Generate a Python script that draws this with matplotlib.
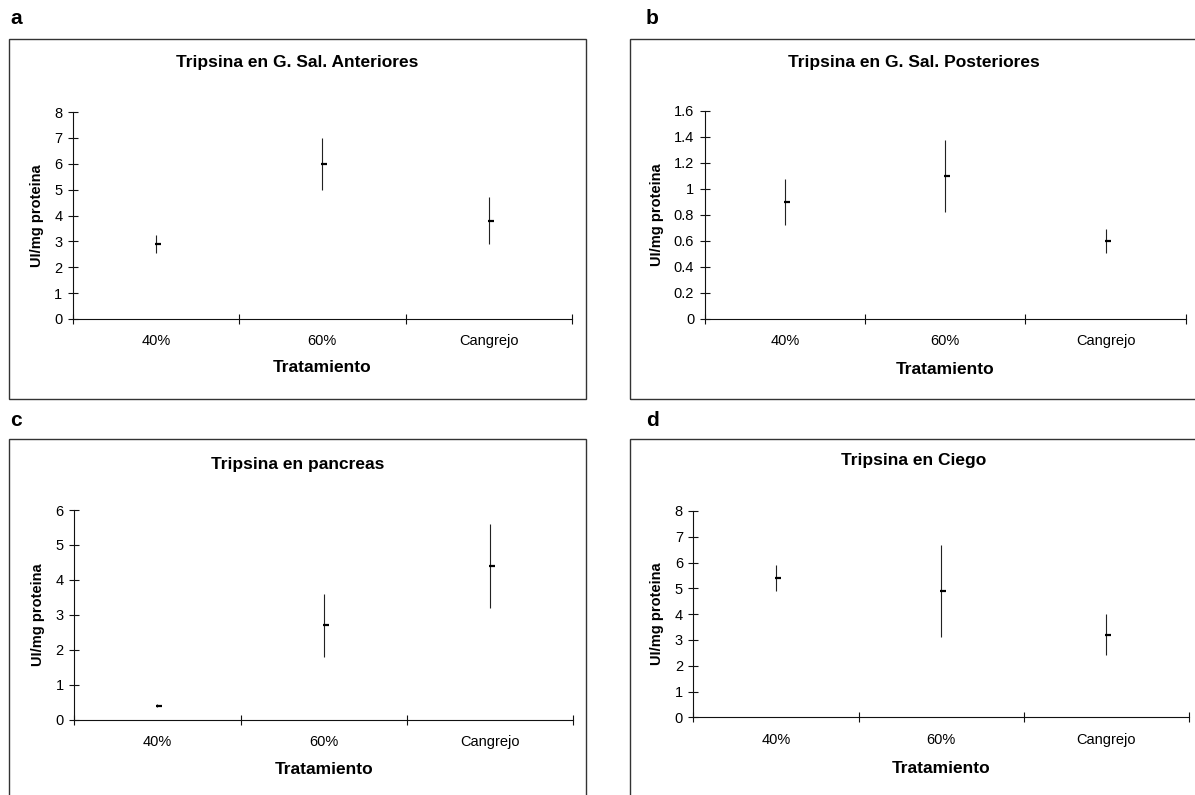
import matplotlib
matplotlib.use("Agg")
import matplotlib.pyplot as plt
from matplotlib.patches import Rectangle
from matplotlib.path import Path
from matplotlib.ticker import FixedLocator, FuncFormatter


plt.rcParams["font.family"] = ["Liberation Sans", "DejaVu Sans"]

# -------------------------------------------------------
# Data: tripsina activity (UI/mg proteina), mean and error
# -------------------------------------------------------

categories = ["40%", "60%", "Cangrejo"]

ant_mean = [2.9, 6.0, 3.8]
ant_err = [0.35, 1.0, 0.9]

post_mean = [0.9, 1.1, 0.6]
post_err = [0.18, 0.28, 0.095]

panc_mean = [0.4, 2.7, 4.4]
panc_err = [0.03, 0.9, 1.2]

ciego_mean = [5.4, 4.9, 3.2]
ciego_err = [0.5, 1.8, 0.8]

titles = [
    "Tripsina en G. Sal. Anteriores",
    "Tripsina en G. Sal. Posteriores",
    "Tripsina en pancreas",
    "Tripsina en Ciego",
]
letters = ["a", "b", "c", "d"]
y_max = [8, 1.6, 6, 8]
y_step = [1, 0.2, 1, 1]

W, H = 1195, 795

# layout in pixels: frame box, plot box, title y, xlabel y, ylabel x, letter pos
panels = [
    dict(frame=(9, 39, 586, 399), plot=(72.7, 112, 572, 319),
         title_y=62.5, xlab_y=368, ylab_x=36.5, letter=(10, 19)),
    dict(frame=(630, 39, 1198, 399), plot=(704.6, 111, 1185.7, 319),
         title_y=62.5, xlab_y=369, ylab_x=657, letter=(646, 19)),
    dict(frame=(9, 439, 586, 800), plot=(74.2, 510, 573.3, 719.5),
         title_y=465, xlab_y=770, ylab_x=37.7, letter=(10, 420)),
    dict(frame=(630, 439, 1198, 800), plot=(693.3, 511, 1189, 717.3),
         title_y=461, xlab_y=768.5, ylab_x=657, letter=(646, 420)),
]

# short dash sitting mostly to the right of the error line
dash = Path([(-0.25, 0), (1, 0)], [Path.MOVETO, Path.LINETO])


def fx(x):
    return x / W


def fy(y):
    return 1 - y / H


def draw_panel(fig, p, title, letter, means, errs, ymax, ystep):

    x0, y0, x1, y1 = p["frame"]
    fig.add_artist(Rectangle((fx(x0), fy(y1)), fx(x1 - x0), (y1 - y0) / H,
                             transform=fig.transFigure, fill=False,
                             ec="#333333", lw=1.0, clip_on=False))

    px0, py0, px1, py1 = p["plot"]
    ax = fig.add_axes([fx(px0), fy(py1), fx(px1 - px0), (py1 - py0) / H])

    pos = [i + 0.5 for i in range(len(categories))]
    ax.errorbar(pos, means, yerr=errs, fmt="none", ecolor="#222222",
                elinewidth=0.8, capsize=0)
    ax.plot(pos, means, linestyle="none", marker=dash, color="black",
            markersize=7, markeredgewidth=1.6)

    ax.set_xlim(0, len(categories))
    ax.set_ylim(0, ymax)

    for side in ("top", "right"):
        ax.spines[side].set_visible(False)
    for side in ("left", "bottom"):
        ax.spines[side].set_linewidth(0.8)
        ax.spines[side].set_color("#111111")

    nt = int(round(ymax / ystep))
    ax.yaxis.set_major_locator(FixedLocator([i * ystep for i in range(nt + 1)]))
    ax.yaxis.set_major_formatter(FuncFormatter(lambda v, _: "%g" % round(v, 2)))

    ax.xaxis.set_major_locator(FixedLocator(range(len(categories) + 1)))
    ax.xaxis.set_major_formatter(FuncFormatter(lambda v, _: ""))
    ax.xaxis.set_minor_locator(FixedLocator(pos))
    ax.set_xticklabels(categories, minor=True)

    ax.tick_params(axis="both", which="major", direction="inout", length=7,
                   width=0.8, color="#111111", labelsize=10.5)
    ax.tick_params(axis="y", which="major", pad=4)
    ax.tick_params(axis="x", which="minor", length=0, pad=11, labelsize=10.5)

    ax.patch.set_alpha(0)

    fig.text(fx((x0 + x1) / 2), fy(p["title_y"]), title, ha="center",
             va="center", fontsize=12.5, fontweight="bold")
    fig.text(fx((px0 + px1) / 2), fy(p["xlab_y"]), "Tratamiento",
             ha="center", va="center", fontsize=12.5, fontweight="bold")
    fig.text(fx(p["ylab_x"]), fy((py0 + py1) / 2), "UI/mg proteina",
             ha="center", va="center", rotation=90, fontsize=10.5,
             fontweight="bold")
    lx, ly = p["letter"]
    fig.text(fx(lx), fy(ly), letter, ha="left", va="center",
             fontsize=15, fontweight="bold")

    return ax


def main():

    fig = plt.figure(figsize=(W / 100, H / 100), dpi=100)

    all_means = [ant_mean, post_mean, panc_mean, ciego_mean]
    all_errs = [ant_err, post_err, panc_err, ciego_err]

    for i in range(4):
        draw_panel(fig, panels[i], titles[i], letters[i],
                   all_means[i], all_errs[i], y_max[i], y_step[i])

    fig.savefig("out.png", dpi=100)


if __name__ == "__main__":
    main()
